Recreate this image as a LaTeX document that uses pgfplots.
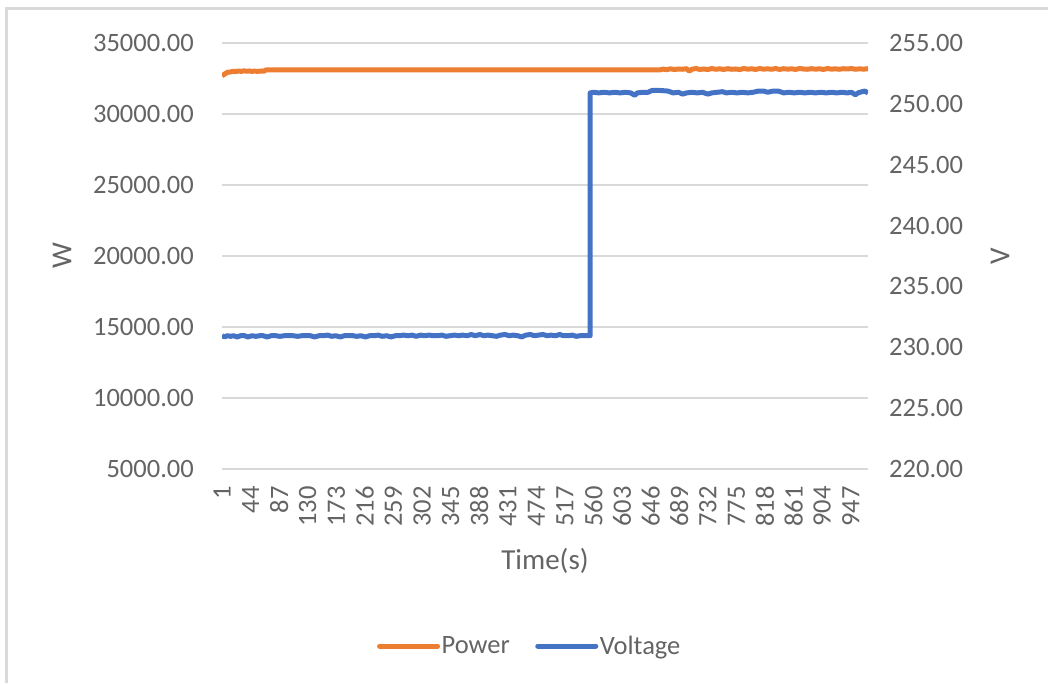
\documentclass[border=0pt]{standalone}
\usepackage{fontspec}
\setmainfont{Carlito}
\usepackage{pgfplots}
\pgfplotsset{compat=1.18}
\definecolor{txt}{RGB}{100,100,100}
\definecolor{gridc}{RGB}{217,217,217}
\definecolor{pow}{RGB}{237,125,49}
\definecolor{volt}{RGB}{68,114,196}
\newcommand\tf{\fontsize{26.5}{30}\selectfont}
\newcommand\lf{\fontsize{29}{33}\selectfont}

\pgfplotstableread{
x y
1 32700
4 32780
7 32880
10 32950
14 32960
18 33010
22 32990
26 33030
30 33000
34 33040
38 33010
42 33030
46 33000
50 33020
55 33000
60 33030
64 33010
67 33100
100 33100
200 33100
300 33100
400 33100
500 33100
600 33100
650 33100
660 33110
665 33160
670 33120
676 33180
682 33130
688 33170
694 33150
700 33190
704 33020
708 33150
714 33200
720 33140
726 33170
732 33130
738 33200
744 33150
750 33180
756 33140
762 33190
768 33150
774 33170
780 33130
786 33200
792 33160
798 33180
804 33140
810 33200
816 33160
822 33180
828 33150
834 33200
840 33140
846 33190
852 33160
858 33180
864 33140
870 33200
876 33170
882 33150
888 33190
894 33160
900 33180
906 33140
912 33200
918 33160
924 33180
930 33150
936 33190
942 33170
948 33200
954 33150
960 33180
966 33160
973 33190
}\powertable

\pgfplotstableread{
x y
1 230.95
5 230.85
9 230.95
14 230.9
18 230.95
24 230.85
29 230.95
35 230.95
40 230.85
46 230.95
52 230.9
58 230.95
63 230.95
69 230.85
75 230.95
82 230.95
88 230.9
95 230.95
102 230.95
108 230.95
115 230.9
121 230.95
128 230.95
134 230.95
140 230.85
147 230.95
153 230.95
160 231.0
166 230.9
172 230.95
179 230.85
185 230.95
191 230.95
198 230.95
204 230.9
210 230.95
217 230.85
223 230.95
230 230.95
236 231.0
242 230.9
249 230.95
255 230.85
262 230.95
268 230.95
274 231.0
281 230.95
287 231.0
293 230.9
300 231.0
306 230.95
313 231.0
319 230.95
325 230.95
332 231.0
338 230.9
344 230.95
351 231.0
357 230.95
363 231.0
370 230.95
376 231.05
382 230.95
389 231.05
395 230.95
401 231.0
408 230.95
414 230.9
420 231.0
427 231.05
433 230.95
439 231.0
446 230.95
452 230.85
458 231.0
465 231.05
471 230.95
477 231.0
484 231.05
490 230.95
496 231.0
503 230.95
509 231.05
515 230.95
522 230.95
528 231.0
534 230.9
540 230.95
546 230.95
550 230.95
555 230.95
555 250.9
560 250.95
568 250.9
576 250.95
584 250.9
592 250.95
600 250.9
608 250.95
616 250.9
622 250.7
626 250.9
634 250.95
642 250.95
648 251.1
660 251.1
672 251.05
680 250.9
688 250.95
694 250.8
700 250.9
708 250.95
716 250.9
724 250.95
732 250.8
738 250.9
746 250.95
754 251.0
760 250.9
768 250.95
776 250.9
784 250.95
792 250.9
800 250.95
808 251.05
816 251.05
822 250.95
830 251.05
838 251.05
846 250.9
854 250.95
862 250.9
870 250.95
878 250.9
886 250.95
894 250.9
902 250.95
910 250.9
918 250.95
926 250.9
934 250.95
942 250.9
948 250.95
954 250.75
958 250.9
964 251.0
968 251.05
973 250.9
}\volttable

\begin{document}
\begin{tikzpicture}[x=1pt,y=1pt]
\useasboundingbox (0,0) rectangle (1048,683);
\draw[gridc, line width=2.7pt] (6.3,0) -- (6.3,674.3) -- (1048,674.3);
\begin{axis}[
  at={(222pt,214pt)}, anchor=south west,
  scale only axis, width=646pt, height=426pt,
  xmin=1, xmax=973, ymin=5000, ymax=35000,
  ytick={5000,10000,...,35000},
  xtick={1,44,...,947},
  scaled ticks=false,
  axis line style={draw=none},
  major tick length=0pt,
  ymajorgrids, xmajorgrids=false,
  grid style={gridc, line width=1.6pt},
  /pgf/number format/assume math mode=true,
  tick label style={font=\tf, text=txt, inner sep=0pt},
  yticklabel style={anchor=east, xshift=-28pt,
    /pgf/number format/fixed, /pgf/number format/fixed zerofill,
    /pgf/number format/precision=2, /pgf/number format/1000 sep={}},
  xticklabel style={yshift=-17pt, rotate=90, anchor=east},
  xlabel={Time(s)}, ylabel={W},
  every axis x label/.style={at={(axis description cs:0.5,-0.216)}, anchor=center, font=\lf, text=txt},
  every axis y label/.style={at={(axis description cs:-0.2477,0.5)}, anchor=center, rotate=90, font=\lf, text=txt},
  legend style={at={(axis description cs:0.476,-0.4155)}, anchor=center, draw=none, fill=none,
    legend columns=2, font=\tf, text=txt, inner sep=0pt,
    nodes={inner sep=1.5pt},
    /tikz/every even column/.append style={column sep=24pt}},
  legend image code/.code={\draw[#1, line width=5pt, line cap=round] (0pt,0pt) -- (58pt,0pt);},
]
\addplot[pow, line width=5pt, line join=round] table[x=x,y=y] {\powertable};
\addlegendentry{Power}
\addlegendimage{volt, line width=5pt}
\addlegendentry{Voltage}
\end{axis}
\begin{axis}[
  at={(222pt,214pt)}, anchor=south west,
  scale only axis, width=646pt, height=426pt,
  xmin=1, xmax=973, ymin=220, ymax=255,
  ytick={220,225,...,255},
  scaled ticks=false,
  axis x line=none, axis y line*=right,
  axis line style={draw=none},
  major tick length=0pt,
  /pgf/number format/assume math mode=true,
  tick label style={font=\tf, text=txt, inner sep=0pt},
  yticklabel style={anchor=west, xshift=21pt,
    /pgf/number format/fixed, /pgf/number format/fixed zerofill,
    /pgf/number format/precision=2, /pgf/number format/1000 sep={}},
  ylabel={V},
  every axis y label/.style={at={(axis description cs:1.2043,0.5)}, anchor=center, rotate=90, font=\lf, text=txt},
]
\addplot[volt, line width=5pt, line join=round] table[x=x,y=y] {\volttable};
\end{axis}
\end{tikzpicture}
\end{document}
